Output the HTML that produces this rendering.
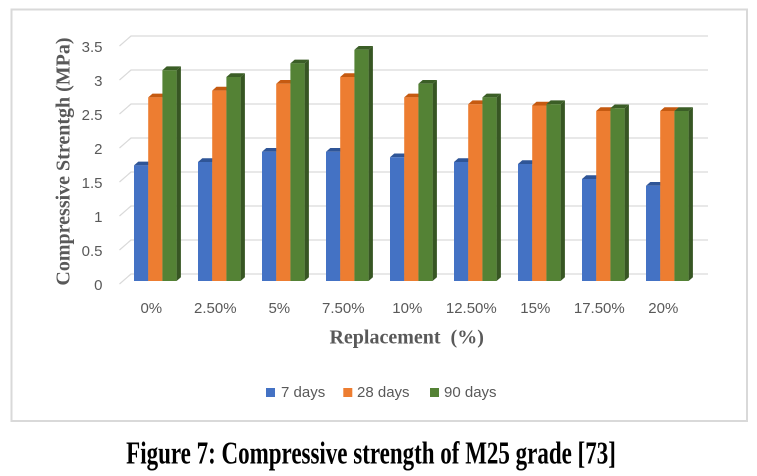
<!DOCTYPE html>
<html><head><meta charset="utf-8"><style>
html,body{margin:0;padding:0;background:#fff;}
svg{display:block;}
</style></head><body>
<svg width="757" height="476" viewBox="0 0 757 476" xmlns="http://www.w3.org/2000/svg">
<rect x="0" y="0" width="757" height="476" fill="#fff"/>
<rect x="11.5" y="9.5" width="735.5" height="411.5" fill="#fff" stroke="#d9d9d9" stroke-width="2"/>
<g stroke="#d9d9d9" stroke-width="1.2" fill="none">
<polyline points="119.5,284 131,274 708,274"/>
<polyline points="119.5,250 131,240 708,240"/>
<polyline points="119.5,216 131,206 708,206"/>
<polyline points="119.5,182 131,172 708,172"/>
<polyline points="119.5,148 131,138 708,138"/>
<polyline points="119.5,114 131,104 708,104"/>
<polyline points="119.5,80 131,70 708,70"/>
<polyline points="119.5,46 131,36 708,36"/>
</g>
<g font-family="Liberation Sans, sans-serif" font-size="15" fill="#595959" text-anchor="end">
<text x="102.5" y="290">0</text>
<text x="102.5" y="256">0.5</text>
<text x="102.5" y="222">1</text>
<text x="102.5" y="188">1.5</text>
<text x="102.5" y="154">2</text>
<text x="102.5" y="120">2.5</text>
<text x="102.5" y="86">3</text>
<text x="102.5" y="52">3.5</text>
</g>
<g id="bars"></g>
<g font-family="Liberation Sans, sans-serif" font-size="15" fill="#595959" text-anchor="middle">
<text x="151.3" y="313">0%</text>
<text x="215.3" y="313">2.50%</text>
<text x="279.3" y="313">5%</text>
<text x="343.3" y="313">7.50%</text>
<text x="407.3" y="313">10%</text>
<text x="471.3" y="313">12.50%</text>
<text x="535.3" y="313">15%</text>
<text x="599.3" y="313">17.50%</text>
<text x="663.3" y="313">20%</text>
</g>
<text x="406.7" y="343.5" font-family="Liberation Serif, serif" font-weight="bold" font-size="20" fill="#595959" text-anchor="middle" xml:space="preserve">Replacement  (%)</text>
<text transform="translate(69.5,161.5) rotate(-90)" x="0" y="0" font-family="Liberation Serif, serif" font-weight="bold" font-size="20" fill="#595959" text-anchor="middle">Compressive Strentgh (MPa)</text>
<rect x="266" y="388" width="9" height="9" fill="#4472c4"/>
<rect x="343.3" y="388" width="9" height="9" fill="#ed7d31"/>
<rect x="430" y="388" width="9" height="9" fill="#548235"/>
<g font-family="Liberation Sans, sans-serif" font-size="15" fill="#595959">
<text x="281" y="397">7 days</text>
<text x="357" y="397">28 days</text>
<text x="444" y="397">90 days</text>
</g>
<g transform="translate(371,463.5) scale(1,1.38)">
<text x="0" y="0" font-family="Liberation Serif, serif" font-weight="bold" font-size="23" fill="#000" text-anchor="middle">Figure 7: Compressive strength of M25 grade [73]</text>
</g>
<g>
<!-- bars generated inline -->
</g>
<g id="b">
</g>
<script>
(function(){
var ns="http://www.w3.org/2000/svg";
var g=document.getElementById("bars");
var d7=[1.7,1.75,1.9,1.9,1.82,1.75,1.72,1.5,1.4];
var d28=[2.7,2.8,2.9,3.0,2.7,2.6,2.58,2.5,2.5];
var d90=[3.1,3.0,3.2,3.4,2.9,2.7,2.6,2.54,2.5];
var cols=[["#4472c4","#2f5597","#2f5597"],["#ed7d31","#c55a11","#c55a11"],["#548235","#3b5e26","#375623"]];
var base=281,sc=68,w=14.2,dx=4.3,dy=3.8;
function poly(pts,fill){var p=document.createElementNS(ns,"polygon");p.setAttribute("points",pts.map(function(a){return a[0].toFixed(2)+","+a[1].toFixed(2)}).join(" "));p.setAttribute("fill",fill);g.appendChild(p);}
for(var i=0;i<9;i++){
 var x0=134+64*i;
 var vals=[d7[i],d28[i],d90[i]];
 for(var s=0;s<3;s++){
  var x=x0+w*s,t=base-vals[s]*sc,c=cols[s];
  poly([[x+w,t],[x+w+dx,t-dy],[x+w+dx,base-dy],[x+w,base]],c[2]);
  poly([[x,t],[x+w,t],[x+w+dx,t-dy],[x+dx,t-dy]],c[1]);
  poly([[x,t],[x+w,t],[x+w,base],[x,base]],c[0]);
 }
}
})();
</script>
</svg>
</body></html>
